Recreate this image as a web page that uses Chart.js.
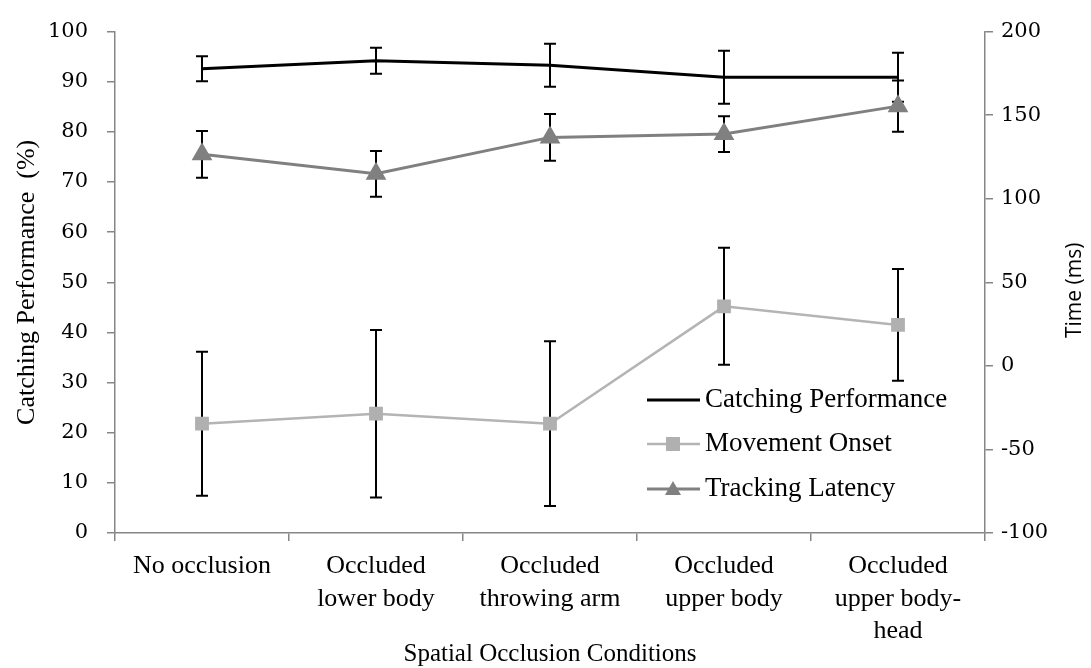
<!DOCTYPE html>
<html>
<head>
<meta charset="utf-8">
<script src="https://cdn.jsdelivr.net/npm/chart.js@4"></script>
<style>
  html, body { margin: 0; padding: 0; background: #fff; }
</style>
</head>
<body>
<canvas id="grafico" width="1091" height="668"></canvas>
<script>
// categorias del eje x
const condiciones = [
  "No occlusion",
  ["Occluded", "lower body"],
  ["Occluded", "throwing arm"],
  ["Occluded", "upper body"],
  ["Occluded", "upper body-", "head"]
];

// Catching Performance (%) - eje izquierdo
const rendimiento = [92.6, 94.2, 93.3, 90.9, 90.9];
const rendimientoError = [2.5, 2.6, 4.3, 5.3, 4.9];

// Movement Onset (ms) - eje derecho
const inicioMovimiento = [-34.6, -28.6, -34.6, 35.6, 24.5];
const inicioError = [43.1, 50.1, 49.3, 35.0, 33.4];

// Tracking Latency (ms) - eje derecho
const latencia = [126.6, 114.9, 136.7, 138.7, 155.4];
const latenciaError = [14.0, 13.7, 14.0, 10.7, 15.3];

// rangos de los ejes
const ejeIzq = { min: 0, max: 100, paso: 10 };
const ejeDer = { min: -100, max: 200, paso: 50 };

const GRIS_EJE = "#868686";
const serif = "'DejaVu Serif', serif";
const serifTexto = "'Liberation Serif', serif";

// barras de error + titulos + leyenda
const extras = {
  id: "extras",
  beforeDatasetsDraw(chart) {
    const ctx = chart.ctx;
    ctx.save();
    ctx.strokeStyle = "#000";
    ctx.lineWidth = 2;
    chart.data.datasets.forEach((ds, i) => {
      const meta = chart.getDatasetMeta(i);
      const escala = chart.scales[ds.yAxisID];
      ds.errores.forEach((e, j) => {
        const x = meta.data[j].x;
        const arriba = escala.getPixelForValue(ds.data[j] + e);
        const abajo = escala.getPixelForValue(ds.data[j] - e);
        ctx.beginPath();
        ctx.moveTo(x, arriba); ctx.lineTo(x, abajo);
        ctx.moveTo(x - 6, arriba); ctx.lineTo(x + 6, arriba);
        ctx.moveTo(x - 6, abajo); ctx.lineTo(x + 6, abajo);
        ctx.stroke();
      });
    });
    ctx.restore();
  },
  afterDraw(chart) {
    const ctx = chart.ctx;
    const area = chart.chartArea;
    const medio = (area.top + area.bottom) / 2;
    ctx.save();
    ctx.fillStyle = "#000";
    ctx.textAlign = "center";
    ctx.textBaseline = "middle";

    // titulo eje izquierdo
    ctx.save();
    ctx.translate(27, medio);
    ctx.rotate(-Math.PI / 2);
    ctx.font = "26px " + serifTexto;
    ctx.fillText("Catching Performance  (%)", 0, 0);
    ctx.restore();

    // titulo eje derecho
    ctx.save();
    ctx.translate(1075, medio + 8);
    ctx.rotate(-Math.PI / 2);
    ctx.font = "21px 'Open Sans', sans-serif";
    ctx.fillText("Time (ms)", 0, 0);
    ctx.restore();

    // titulo eje x
    ctx.font = "25px " + serifTexto;
    ctx.fillText("Spatial Occlusion Conditions", (area.left + area.right) / 2, 654);

    // leyenda
    const filas = [400, 444, 489];
    chart.data.datasets.forEach((ds, i) => {
      const y = filas[i];
      ctx.strokeStyle = ds.borderColor;
      ctx.lineWidth = ds.borderWidth;
      ctx.beginPath();
      ctx.moveTo(647, y); ctx.lineTo(700, y);
      ctx.stroke();
      ctx.fillStyle = ds.pointBackgroundColor;
      if (ds.pointStyle === "rect") {
        ctx.fillRect(666, y - 7, 14, 14);
      } else if (ds.pointStyle === "triangle") {
        ctx.beginPath();
        ctx.moveTo(673, y - 8); ctx.lineTo(681, y + 6); ctx.lineTo(665, y + 6);
        ctx.closePath(); ctx.fill();
      }
      ctx.fillStyle = "#000";
      ctx.textAlign = "left";
      ctx.font = "27px " + serifTexto;
      ctx.fillText(ds.label, 705, y);
    });
    ctx.restore();
  }
};

new Chart(document.getElementById("grafico"), {
  type: "line",
  data: {
    labels: condiciones,
    datasets: [
      {
        label: "Catching Performance",
        data: rendimiento,
        errores: rendimientoError,
        yAxisID: "y",
        borderColor: "#000",
        pointBackgroundColor: "#000",
        borderWidth: 3,
        pointRadius: 0,
        pointStyle: false
      },
      {
        label: "Movement Onset",
        data: inicioMovimiento,
        errores: inicioError,
        yAxisID: "y1",
        borderColor: "#b4b4b4",
        pointBackgroundColor: "#b0b0b0",
        pointBorderColor: "#b0b0b0",
        borderWidth: 2.5,
        pointStyle: "rect",
        pointRadius: 8
      },
      {
        label: "Tracking Latency",
        data: latencia,
        errores: latenciaError,
        yAxisID: "y1",
        borderColor: "#808080",
        pointBackgroundColor: "#808080",
        pointBorderColor: "#808080",
        borderWidth: 3,
        pointStyle: "triangle",
        pointRadius: 9
      }
    ]
  },
  options: {
    responsive: false,
    animation: false,
    layout: { padding: { top: 30, left: 0, right: 0, bottom: 0 } },
    plugins: {
      legend: { display: false },
      tooltip: { enabled: false }
    },
    scales: {
      x: {
        offset: true,
        afterFit: s => { s.height = 135; },
        border: { color: GRIS_EJE, width: 1.5 },
        grid: { offset: true, drawOnChartArea: false, tickLength: 8, color: GRIS_EJE, lineWidth: 1.5 },
        ticks: { color: "#000", padding: 9, maxRotation: 0, autoSkip: false, font: { family: serifTexto, size: 26, lineHeight: 1.25 } }
      },
      y: {
        position: "left",
        min: ejeIzq.min,
        max: ejeIzq.max,
        afterFit: s => { s.width = 115; },
        border: { color: GRIS_EJE, width: 1.5 },
        grid: { drawOnChartArea: false, tickLength: 8, color: GRIS_EJE, lineWidth: 1.5 },
        ticks: { stepSize: ejeIzq.paso, color: "#000", padding: 19, font: { family: serif, size: 21 } }
      },
      y1: {
        position: "right",
        min: ejeDer.min,
        max: ejeDer.max,
        afterFit: s => { s.width = 106; },
        border: { color: GRIS_EJE, width: 1.5 },
        grid: { drawOnChartArea: false, tickLength: 8, color: GRIS_EJE, lineWidth: 1.5 },
        ticks: { stepSize: ejeDer.paso, color: "#000", padding: 8, font: { family: serif, size: 21 } }
      }
    }
  },
  plugins: [extras]
});
</script>
</body>
</html>
